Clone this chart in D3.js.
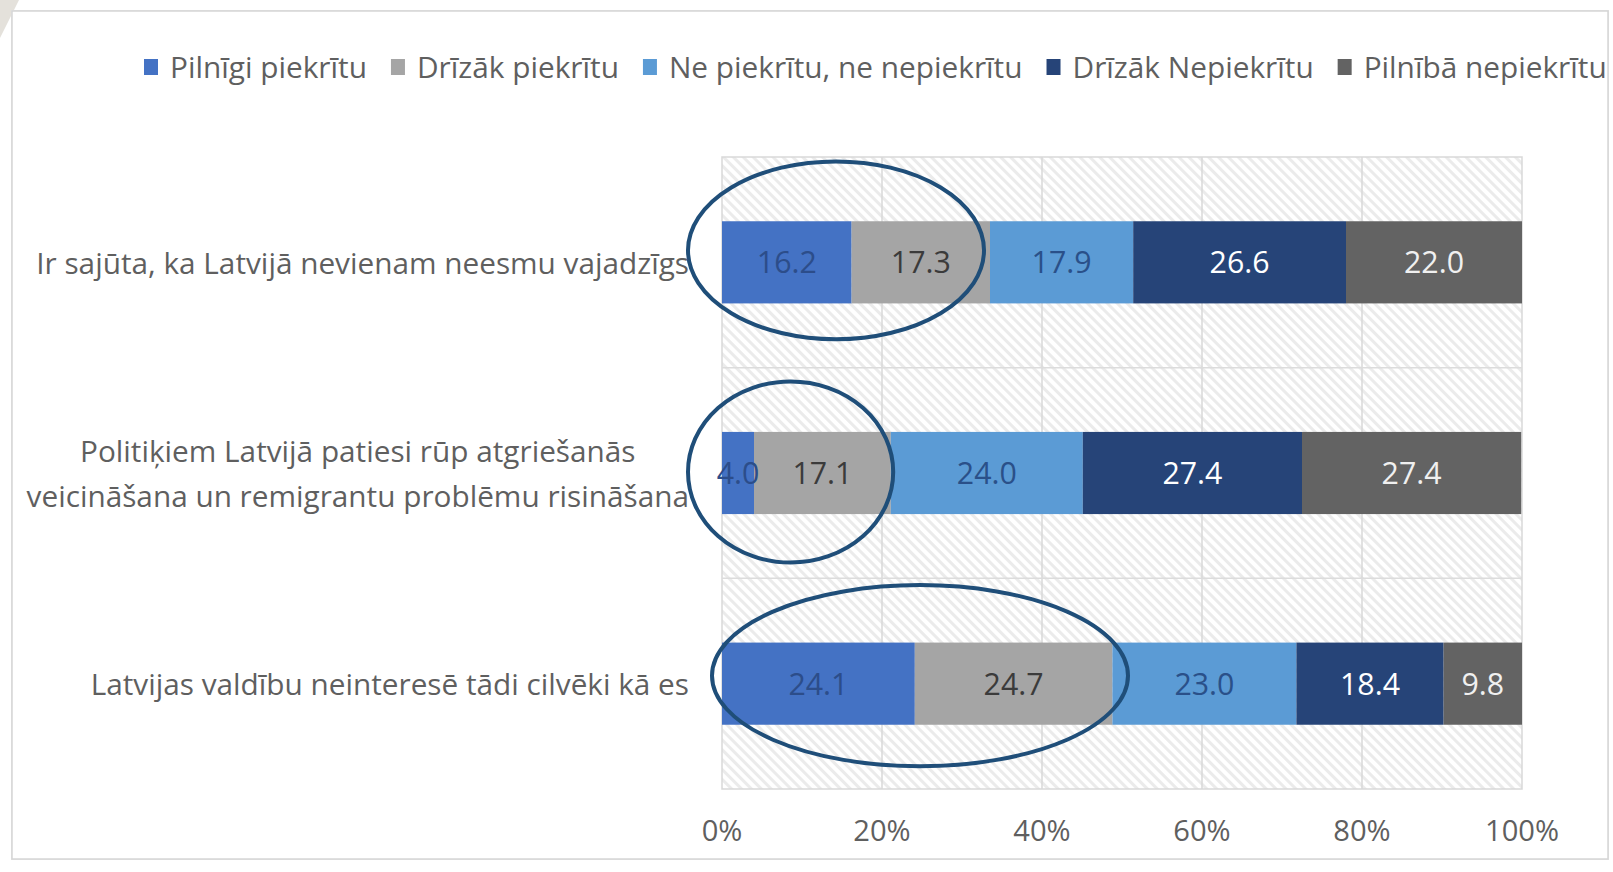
<!DOCTYPE html>
<html><head><meta charset="utf-8">
<script src="https://cdn.jsdelivr.net/npm/d3@7"></script>
<style>
html,body{margin:0;padding:0;background:#fff;}
svg{display:block;}
text{font-family:"Open Sans","Noto Sans",sans-serif;}
</style></head>
<body>
<svg id="chart" width="1613" height="872"></svg>
<script>
// ---- data ----
const categories = [
  ["Ir sajūta, ka Latvijā nevienam neesmu vajadzīgs"],
  ["Politiķiem Latvijā patiesi rūp atgriešanās", "veicināšana un remigrantu problēmu risināšana"],
  ["Latvijas valdību neinteresē tādi cilvēki kā es"]
];
const seriesNames = ["Pilnīgi piekrītu", "Drīzāk piekrītu", "Ne piekrītu, ne nepiekrītu", "Drīzāk Nepiekrītu", "Pilnībā nepiekrītu"];
const pilnigiPiekritu   = [16.2, 4.0, 24.1];
const drizakPiekritu    = [17.3, 17.1, 24.7];
const nePiekritu        = [17.9, 24.0, 23.0];
const drizakNepiekritu  = [26.6, 27.4, 18.4];
const pilnibaNepiekritu = [22.0, 27.4, 9.8];
const tickValues = [0, 20, 40, 60, 80, 100];
const tickLabels = ["0%", "20%", "40%", "60%", "80%", "100%"];
// annotation ellipses (in data units: from %, to %, category index)
const annoFrom = [-4.25, -4.25, -1.25];
const annoTo   = [32.75, 21.4, 50.75];
const annoCat  = [0, 1, 2];

// ---- style ----
const colors = ["#4472C4", "#A5A5A5", "#5B9BD5", "#264478", "#636363"];
const labelColors = ["#2c4d8a", "#3b3b3b", "#2a5089", "#ffffff", "#f0f0f0"];
const textGray = "#5f5f5f";

const svg = d3.select("#chart");
const W = 1613, H = 872;
const plot = {left: 722, right: 1522, top: 157, bottom: 789};

// page decoration
svg.append("rect").attr("width", W).attr("height", H).attr("fill", "#fff");
svg.append("path").attr("d", "M0,0 L19,0 L0,38 Z").attr("fill", "#e4e1db");
svg.append("rect").attr("x", 13).attr("y", 12).attr("width", 1594).attr("height", 846)
  .attr("fill", "none").attr("stroke", "#e6e6e6").attr("stroke-width", 4);
svg.append("rect").attr("x", 12).attr("y", 11).attr("width", 1596).attr("height", 848)
  .attr("fill", "#fff").attr("stroke", "#d6d6d6").attr("stroke-width", 1.5);

// hatch pattern
const defs = svg.append("defs");
const pat = defs.append("pattern").attr("id", "hatch").attr("patternUnits", "userSpaceOnUse")
  .attr("width", 7).attr("height", 7).attr("patternTransform", "rotate(-45)");
pat.append("rect").attr("width", 7).attr("height", 7).attr("fill", "#ffffff");
pat.append("rect").attr("width", 3).attr("height", 7).attr("fill", "#ebebeb");

// fit font size helper
function fitSize(str, targetW, family) {
  const t = svg.append("text").attr("font-size", 100).style("font-family", family).text(str);
  const w = t.node().getComputedTextLength();
  t.remove();
  return 100 * targetW / w;
}
const fam = '"Open Sans","Noto Sans",sans-serif';
const catSize = fitSize(categories[0][0], 653, fam);
const legSize = fitSize(seriesNames[0], 197, fam);
const tickSize = fitSize(tickLabels[5], 74, fam);
const valSize = fitSize("26.6", 60, fam);

// scales
const x = d3.scaleLinear().domain([0, 100]).range([plot.left, plot.right]);
const catIdx = categories.map((d, i) => i);
const y = d3.scaleBand().domain(catIdx).range([plot.top, plot.bottom]).paddingInner(0.61).paddingOuter(0.305);

// plot background
svg.append("rect").attr("x", plot.left).attr("y", plot.top)
  .attr("width", plot.right - plot.left).attr("height", plot.bottom - plot.top)
  .attr("fill", "url(#hatch)").attr("stroke", "#d9d9d9").attr("stroke-width", 1.5);

// vertical gridlines
svg.append("g").selectAll("line").data(tickValues.slice(1, -1)).join("line")
  .attr("x1", d => x(d)).attr("x2", d => x(d)).attr("y1", plot.top).attr("y2", plot.bottom)
  .attr("stroke", "#d9d9d9").attr("stroke-width", 1.5);
// horizontal category boundaries
svg.append("g").selectAll("line").data(catIdx.slice(1)).join("line")
  .attr("x1", plot.left).attr("x2", plot.right)
  .attr("y1", d => y(d) - y.step() * y.paddingInner() / 2)
  .attr("y2", d => y(d) - y.step() * y.paddingInner() / 2)
  .attr("stroke", "#dcdcdc").attr("stroke-width", 1.5);

// stacked data
const rows = catIdx.map(i => ({
  i, s0: pilnigiPiekritu[i], s1: drizakPiekritu[i], s2: nePiekritu[i], s3: drizakNepiekritu[i], s4: pilnibaNepiekritu[i]
}));
const keys = ["s0", "s1", "s2", "s3", "s4"];
const stack = d3.stack().keys(keys)(rows);

const gBars = svg.append("g");
stack.forEach((layer, k) => {
  gBars.selectAll(null).data(layer).join("rect")
    .attr("x", d => x(d[0])).attr("width", d => x(d[1]) - x(d[0]))
    .attr("y", d => y(d.data.i)).attr("height", y.bandwidth())
    .attr("fill", colors[k]);
});
stack.forEach((layer, k) => {
  gBars.selectAll(null).data(layer).join("text")
    .attr("x", d => (x(d[0]) + x(d[1])) / 2)
    .attr("y", d => y(d.data.i) + y.bandwidth() / 2)
    .attr("dy", "0.36em").attr("text-anchor", "middle")
    .attr("font-size", valSize).attr("fill", labelColors[k])
    .text(d => (d[1] - d[0]).toFixed(1));
});

// annotation ellipses
const annoShift = [-12, -1, -8];
svg.append("g").selectAll("ellipse").data(annoCat).join("ellipse")
  .attr("cx", (d, j) => (x(annoFrom[j]) + x(annoTo[j])) / 2)
  .attr("cy", (d, j) => y(d) + y.bandwidth() / 2 + annoShift[j])
  .attr("rx", (d, j) => (x(annoTo[j]) - x(annoFrom[j])) / 2)
  .attr("ry", (d, j) => y.step() * (j === 0 ? 0.422 : 0.43))
  .attr("fill", "none").attr("stroke", "#1F4E79").attr("stroke-width", 4);

// category labels
const lineH = catSize * 1.5;
const gCat = svg.append("g");
categories.forEach((lines, i) => {
  const cy = y(i) + y.bandwidth() / 2 + 1;
  const t = gCat.append("text").attr("font-size", catSize).attr("fill", textGray)
    .attr("text-anchor", "middle");
  const widths = lines.map(l => {
    const tt = svg.append("text").attr("font-size", catSize).text(l);
    const w = tt.node().getComputedTextLength(); tt.remove(); return w;
  });
  const maxW = d3.max(widths);
  const right = plot.left - 33;
  lines.forEach((l, j) => {
    t.append("tspan").attr("x", right - maxW / 2)
      .attr("y", cy + (j - (lines.length - 1) / 2) * lineH)
      .attr("dy", "0.36em").text(l);
  });
});

// x axis tick labels
svg.append("g").selectAll("text").data(tickValues).join("text")
  .attr("x", d => x(d)).attr("y", 831).attr("dy", "0.36em").attr("text-anchor", "middle")
  .attr("font-size", tickSize).attr("fill", textGray)
  .text((d, i) => tickLabels[i]);

// legend
const leg = svg.append("g");
let lx = 144;
seriesNames.forEach((name, k) => {
  leg.append("rect").attr("x", lx).attr("y", 59).attr("width", 14).attr("height", 16).attr("fill", colors[k]);
  const t = leg.append("text").attr("x", lx + 26).attr("y", 67).attr("dy", "0.36em")
    .attr("font-size", legSize).attr("fill", textGray).text(name);
  lx += 26 + t.node().getComputedTextLength() + 24;
});
</script>
</body></html>
